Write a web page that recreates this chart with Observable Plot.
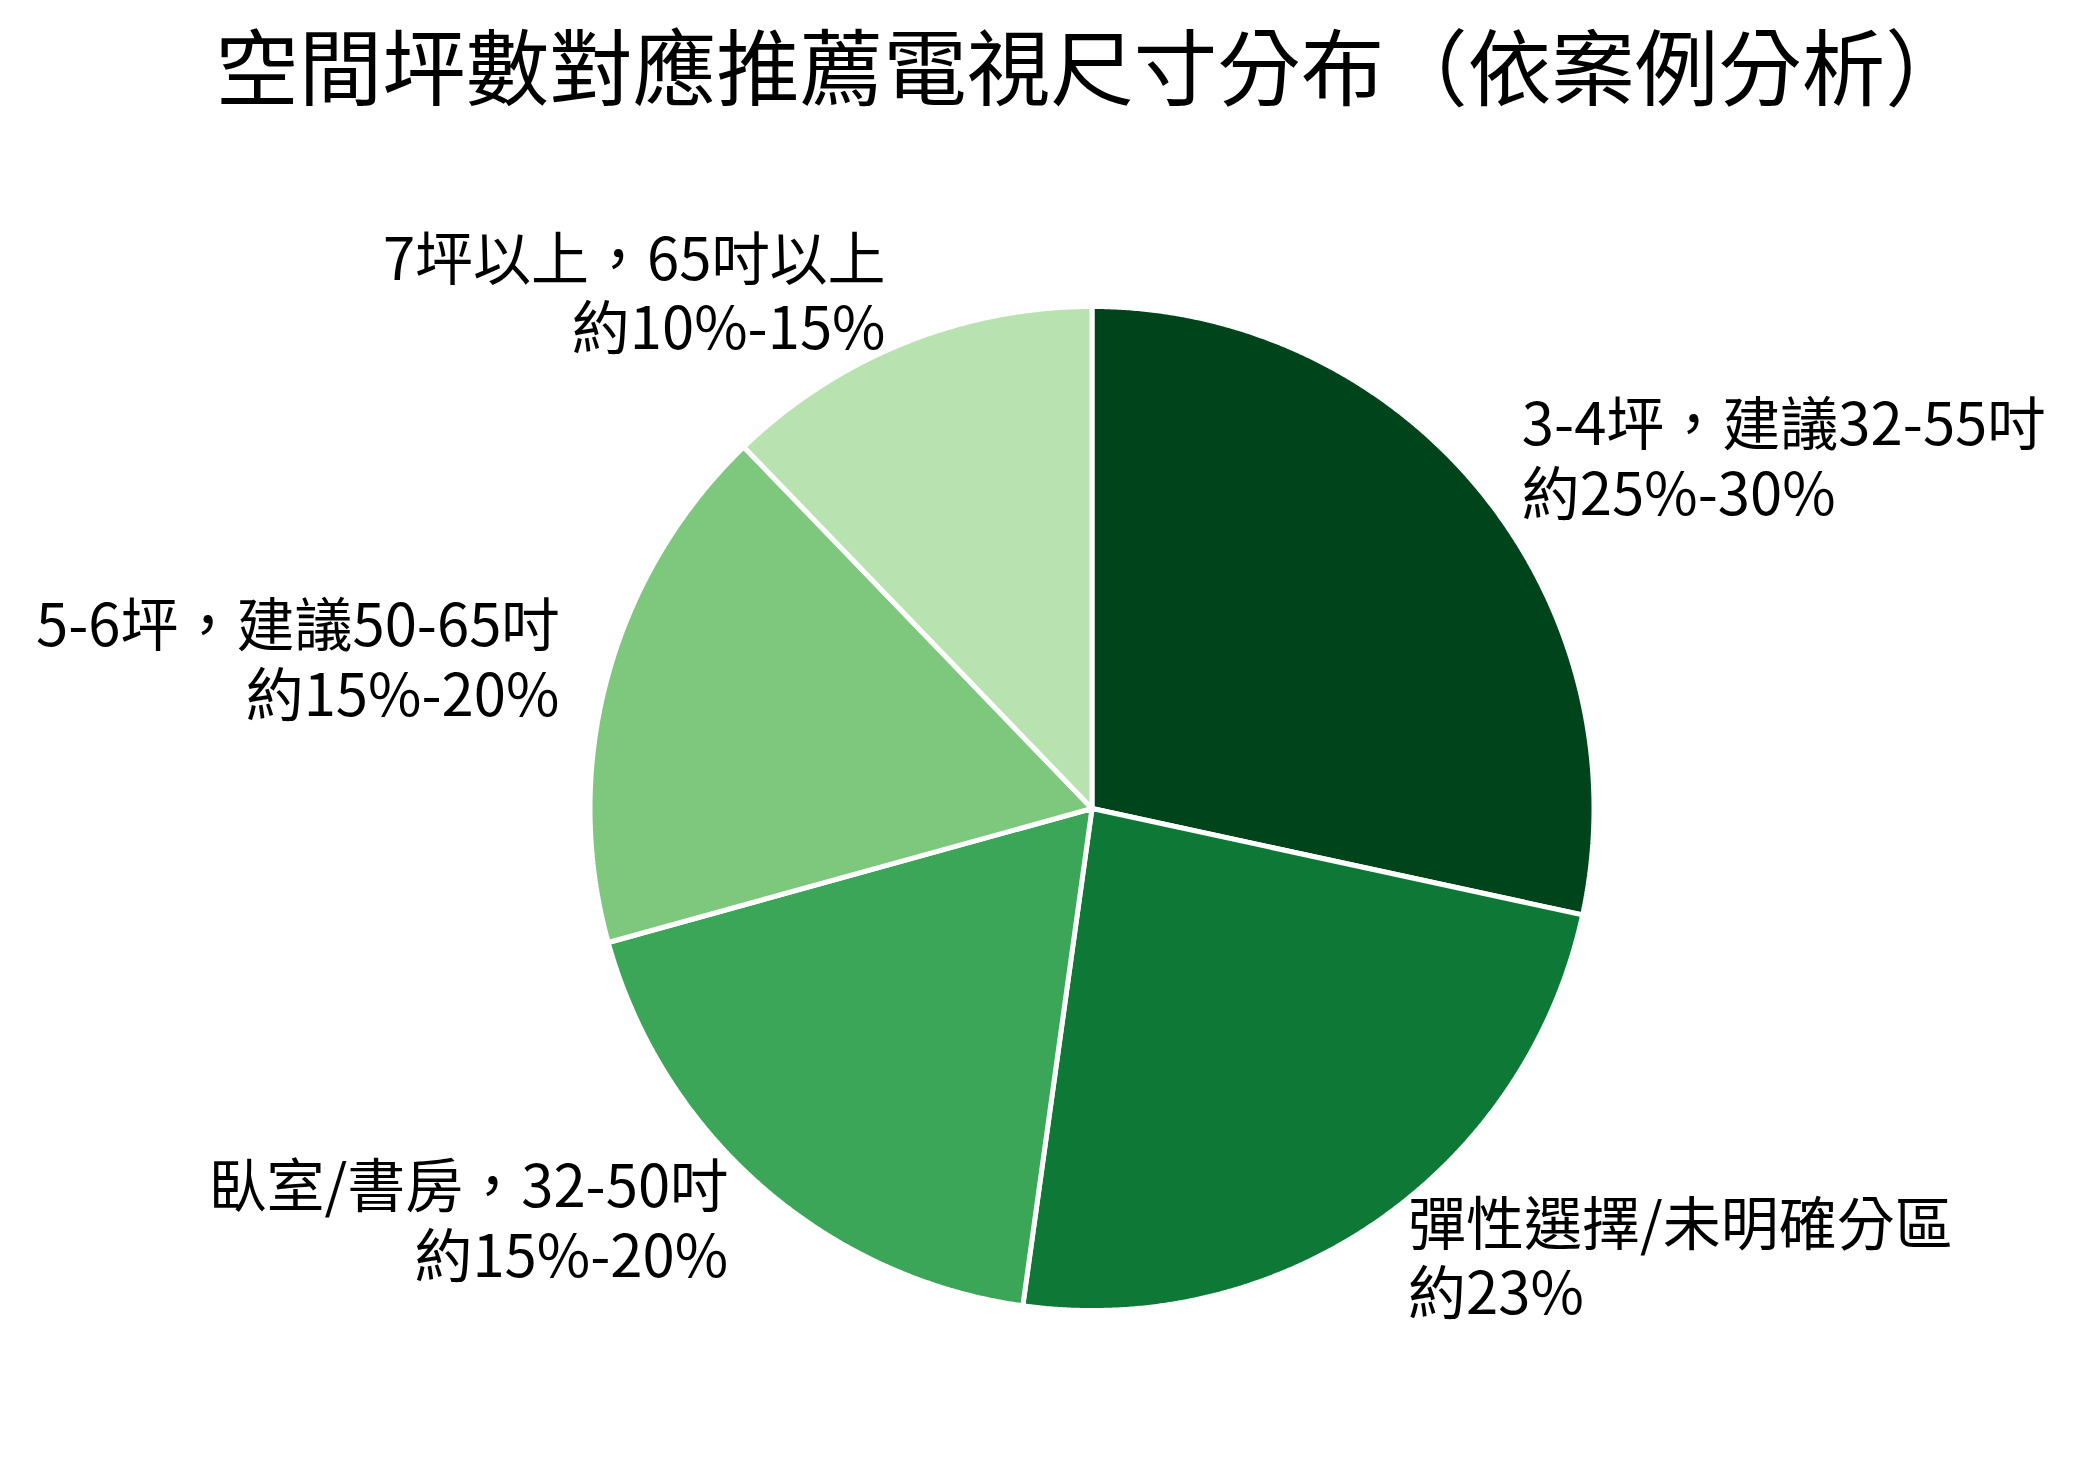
<!DOCTYPE html>
<html>
<head>
<meta charset="utf-8">
<script src="https://cdn.jsdelivr.net/npm/d3@7"></script>
<script src="https://cdn.jsdelivr.net/npm/@observablehq/plot@0.6"></script>
<style>
  html, body { margin: 0; padding: 0; background: #ffffff; }
  #wrap { width: 2080px; height: 1468px; overflow: hidden; }
  #title {
    box-sizing: border-box;
    width: 2080px; height: 125px; line-height: 125px;
    padding-left: 104px;
    text-align: center;
    font-family: "Noto Sans CJK TC", "Noto Sans CJK SC", sans-serif;
    font-size: 83.5px; font-weight: 400; color: #000;
    white-space: nowrap;
  }
</style>
</head>
<body>
<div id="wrap">
  <div id="title">空間坪數對應推薦電視尺寸分布（依案例分析）</div>
  <div id="chart"></div>
</div>
<script>
// ---- data ----
const categories = ["3-4坪，建議32-55吋", "彈性選擇/未明確分區", "臥室/書房，32-50吋", "5-6坪，建議50-65吋", "7坪以上，65吋以上"];
const shareLabels = ["約25%-30%", "約23%", "約15%-20%", "約15%-20%", "約10%-15%"];
const values = [28.4, 23.8, 18.5, 17.1, 12.2];
const colors = ["#00441b", "#0e7936", "#3ba558", "#7dc87d", "#b8e3b1"];

// ---- layout ----
const W = 2080, H = 1343;
const cx = 1091.5, cy = 683, R = 502;

const rows = categories.map((c, i) => ({key: c, value: values[i], share: shareLabels[i]}));
const arcs = d3.pie().sort(null).value(d => d.value)(rows);

// wedge outlines in unit-circle coordinates
const wedgePts = [];
arcs.forEach(a => {
  const key = a.data.key;
  wedgePts.push({key, x: 0, y: 0});
  const n = Math.max(2, Math.ceil((a.endAngle - a.startAngle) / (Math.PI / 720)));
  for (let k = 0; k <= n; k++) {
    const t = a.startAngle + (a.endAngle - a.startAngle) * k / n;
    wedgePts.push({key, x: Math.sin(t), y: Math.cos(t)});
  }
  wedgePts.push({key, x: 0, y: 0});
});

const labels = arcs.map(a => {
  const m = (a.startAngle + a.endAngle) / 2;
  return {
    x: 1.1 * Math.sin(m),
    y: 1.1 * Math.cos(m),
    right: Math.sin(m) > 0,
    text: a.data.key + "\n" + a.data.share
  };
});

const font = "'Noto Sans CJK TC', 'Noto Sans CJK SC', sans-serif";

const chart = Plot.plot({
  width: W,
  height: H,
  margin: 0,
  style: {fontFamily: font, background: "white", color: "black"},
  x: {domain: [-1, 1], range: [cx - R, cx + R], axis: null},
  y: {domain: [-1, 1], range: [cy + R, cy - R], axis: null},
  color: {domain: categories, range: colors},
  marks: [
    Plot.line(wedgePts, {
      x: "x", y: "y", z: "key", fill: "key",
      stroke: "white", strokeWidth: 5, strokeLinejoin: "miter", curve: "linear"
    }),
    Plot.text(labels.filter(d => d.right), {
      x: "x", y: "y", text: "text",
      textAnchor: "start", lineAnchor: "middle",
      fontSize: 58, lineHeight: 1.2, dy: -4, fill: "black", fontFamily: font
    }),
    Plot.text(labels.filter(d => !d.right), {
      x: "x", y: "y", text: "text",
      textAnchor: "end", lineAnchor: "middle",
      fontSize: 58, lineHeight: 1.2, dy: -4, fill: "black", fontFamily: font
    })
  ]
});
document.getElementById("chart").appendChild(chart);
</script>
</body>
</html>
